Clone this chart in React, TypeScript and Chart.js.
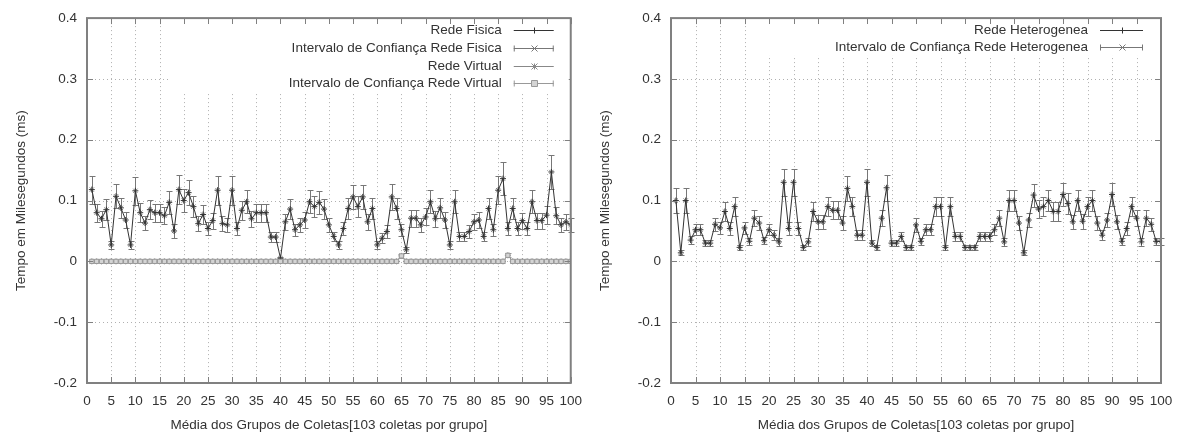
import React, { useEffect, useRef } from "react";
import { Chart, registerables } from "chart.js";

Chart.register(...registerables);

const FONTE = "'Liberation Sans', Arial, sans-serif";
const TAM_FONTE = 13.5;
const COR_TEXTO = "#333";

// Índices dos grupos de coletas (1..100)
const grupos = Array.from({ length: 100 }, (_, i) => i + 1);

const tituloX = "Média dos Grupos de Coletas[103 coletas por grupo]";
const tituloY = "Tempo em Milesegundos (ms)";

// Rede Física: média por grupo e meia-largura do intervalo de confiança (ms)
const redeFisica = [
  0.118, 0.08, 0.07, 0.085, 0.027, 0.107, 0.088, 0.068, 0.027, 0.116,
  0.08, 0.063, 0.085, 0.08, 0.08, 0.075, 0.097, 0.05, 0.118, 0.1,
  0.113, 0.09, 0.062, 0.077, 0.054, 0.067, 0.117, 0.062, 0.06, 0.117,
  0.054, 0.084, 0.098, 0.07, 0.08, 0.08, 0.08, 0.04, 0.04, 0.005,
  0.065, 0.086, 0.052, 0.06, 0.068, 0.098, 0.09, 0.097, 0.086, 0.06,
  0.041, 0.027, 0.054, 0.087, 0.106, 0.09, 0.106, 0.065, 0.087, 0.027,
  0.038, 0.049, 0.106, 0.087, 0.052, 0.019, 0.071, 0.071, 0.06, 0.073,
  0.098, 0.07, 0.088, 0.068, 0.027, 0.098, 0.041, 0.041, 0.049, 0.065,
  0.068, 0.041, 0.087, 0.052, 0.117, 0.136, 0.054, 0.087, 0.054, 0.067,
  0.054, 0.098, 0.067, 0.067, 0.076, 0.147, 0.075, 0.06, 0.065, 0.06,
];
const icRedeFisica = [
  0.023, 0.015, 0.013, 0.017, 0.006, 0.02, 0.017, 0.013, 0.006, 0.023,
  0.016, 0.012, 0.016, 0.015, 0.015, 0.014, 0.019, 0.011, 0.024, 0.019,
  0.021, 0.017, 0.012, 0.015, 0.011, 0.013, 0.024, 0.012, 0.012, 0.024,
  0.011, 0.016, 0.019, 0.013, 0.015, 0.015, 0.015, 0.008, 0.008, 0.003,
  0.013, 0.017, 0.01, 0.012, 0.013, 0.019, 0.017, 0.019, 0.017, 0.012,
  0.008, 0.006, 0.011, 0.017, 0.02, 0.017, 0.02, 0.013, 0.017, 0.006,
  0.008, 0.01, 0.021, 0.017, 0.01, 0.005, 0.014, 0.014, 0.012, 0.014,
  0.019, 0.013, 0.017, 0.013, 0.006, 0.019, 0.008, 0.008, 0.01, 0.013,
  0.013, 0.008, 0.017, 0.01, 0.023, 0.027, 0.011, 0.017, 0.011, 0.013,
  0.011, 0.019, 0.013, 0.013, 0.015, 0.028, 0.014, 0.012, 0.013, 0.012,
];

// Rede Virtual: média por grupo e meia-largura do intervalo de confiança (ms)
const redeVirtual = [
  0, 0, 0, 0, 0, 0, 0, 0, 0, 0,
  0, 0, 0, 0, 0, 0, 0, 0, 0, 0,
  0, 0, 0, 0, 0, 0, 0, 0, 0, 0,
  0, 0, 0, 0, 0, 0, 0, 0, 0, 0,
  0, 0, 0, 0, 0, 0, 0, 0, 0, 0,
  0, 0, 0, 0, 0, 0, 0, 0, 0, 0,
  0, 0, 0, 0, 0.009, 0, 0, 0, 0, 0,
  0, 0, 0, 0, 0, 0, 0, 0, 0, 0,
  0, 0, 0, 0, 0, 0, 0.01, 0, 0, 0,
  0, 0, 0, 0, 0, 0, 0, 0, 0, 0,
];
const icRedeVirtual = [
  0, 0, 0, 0, 0, 0, 0, 0, 0, 0,
  0, 0, 0, 0, 0, 0, 0, 0, 0, 0,
  0, 0, 0, 0, 0, 0, 0, 0, 0, 0,
  0, 0, 0, 0, 0, 0, 0, 0, 0, 0,
  0, 0, 0, 0, 0, 0, 0, 0, 0, 0,
  0, 0, 0, 0, 0, 0, 0, 0, 0, 0,
  0, 0, 0, 0, 0.003, 0, 0, 0, 0, 0,
  0, 0, 0, 0, 0, 0, 0, 0, 0, 0,
  0, 0, 0, 0, 0, 0, 0.003, 0, 0, 0,
  0, 0, 0, 0, 0, 0, 0, 0, 0, 0,
];

// Rede Heterogênea: média por grupo e meia-largura do intervalo de confiança (ms)
const redeHeterogenea = [
  0.1, 0.014, 0.1, 0.035, 0.052, 0.052, 0.03, 0.03, 0.061, 0.055,
  0.082, 0.054, 0.09, 0.023, 0.055, 0.033, 0.071, 0.063, 0.034, 0.052,
  0.043, 0.032, 0.13, 0.054, 0.13, 0.054, 0.023, 0.032, 0.082, 0.065,
  0.065, 0.09, 0.084, 0.084, 0.063, 0.12, 0.09, 0.043, 0.043, 0.13,
  0.03, 0.023, 0.071, 0.121, 0.03, 0.03, 0.041, 0.023, 0.023, 0.06,
  0.033, 0.052, 0.052, 0.09, 0.09, 0.023, 0.09, 0.041, 0.041, 0.023,
  0.023, 0.023, 0.041, 0.041, 0.041, 0.052, 0.071, 0.032, 0.1, 0.1,
  0.063, 0.014, 0.068, 0.109, 0.086, 0.09, 0.1, 0.082, 0.082, 0.11,
  0.095, 0.065, 0.1, 0.066, 0.09, 0.1, 0.063, 0.043, 0.068, 0.11,
  0.065, 0.033, 0.054, 0.09, 0.071, 0.032, 0.071, 0.061, 0.033, 0.033,
];
const icRedeHeterogenea = [
  0.02, 0.004, 0.02, 0.006, 0.009, 0.009, 0.005, 0.005, 0.011, 0.01,
  0.015, 0.01, 0.016, 0.004, 0.01, 0.006, 0.013, 0.011, 0.006, 0.009,
  0.008, 0.006, 0.022, 0.01, 0.022, 0.01, 0.004, 0.006, 0.015, 0.012,
  0.012, 0.016, 0.015, 0.015, 0.011, 0.021, 0.016, 0.008, 0.008, 0.022,
  0.005, 0.004, 0.013, 0.021, 0.005, 0.005, 0.007, 0.004, 0.004, 0.011,
  0.006, 0.009, 0.009, 0.016, 0.016, 0.004, 0.016, 0.007, 0.007, 0.004,
  0.004, 0.004, 0.007, 0.007, 0.007, 0.009, 0.013, 0.006, 0.018, 0.018,
  0.011, 0.004, 0.012, 0.019, 0.015, 0.016, 0.018, 0.015, 0.015, 0.019,
  0.017, 0.012, 0.018, 0.012, 0.016, 0.018, 0.011, 0.008, 0.012, 0.019,
  0.012, 0.006, 0.01, 0.016, 0.013, 0.006, 0.013, 0.011, 0.006, 0.006,
];

type Serie = {
  rotulo: string;
  valores: number[];
  erro?: number[];
  linha: boolean;
  cor: string;
  corPonto: string;
  fundo?: string;
  ponto: string;
  raio: number;
  ordem: number;
};

// Desenha um marcador no estilo do gnuplot (+, x, *, quadrado)
function marcador(ctx: CanvasRenderingContext2D, estilo: string, x: number, y: number, r: number, fundo?: string) {
  ctx.beginPath();
  if (estilo === "cross" || estilo === "star") {
    ctx.moveTo(x - r, y); ctx.lineTo(x + r, y);
    ctx.moveTo(x, y - r); ctx.lineTo(x, y + r);
  }
  if (estilo === "crossRot" || estilo === "star") {
    ctx.moveTo(x - r, y - r); ctx.lineTo(x + r, y + r);
    ctx.moveTo(x - r, y + r); ctx.lineTo(x + r, y - r);
  }
  if (estilo === "rect") {
    ctx.rect(x - r, y - r, 2 * r, 2 * r);
    if (fundo) { ctx.fillStyle = fundo; ctx.fill(); }
  }
  ctx.stroke();
}

// Grade pontilhada nas posições dos ticks
const gradePlugin = {
  id: "gradePontilhada",
  beforeDatasetsDraw(chart: any) {
    const { ctx, chartArea: a, scales } = chart;
    const x = scales.x, y = scales.y;
    ctx.save();
    ctx.strokeStyle = "#b0b0b0";
    ctx.lineWidth = 1;
    ctx.setLineDash([1, 3]);
    x.ticks.forEach((t: any) => {
      if (t.value <= x.min || t.value >= x.max) return;
      const px = Math.round(x.getPixelForValue(t.value)) + 0.5;
      ctx.beginPath(); ctx.moveTo(px, a.top); ctx.lineTo(px, a.bottom); ctx.stroke();
    });
    y.ticks.forEach((t: any) => {
      if (t.value <= y.min + 1e-9 || t.value >= y.max - 1e-9) return;
      const py = Math.round(y.getPixelForValue(t.value)) + 0.5;
      ctx.beginPath(); ctx.moveTo(a.left, py); ctx.lineTo(a.right, py); ctx.stroke();
    });
    ctx.restore();
  },
};

// Barras de erro (intervalo de confiança) desenhadas sob os marcadores
const erroPlugin = {
  id: "barrasErro",
  beforeDatasetDraw(chart: any, args: any) {
    const ds = chart.data.datasets[args.index];
    if (!ds.erro) return;
    const { ctx } = chart;
    const y = chart.scales.y;
    ctx.save();
    ctx.strokeStyle = ds.corBarra;
    ctx.lineWidth = 1;
    args.meta.data.forEach((pt: any, i: number) => {
      const v = ds.data[i].y;
      const e = ds.erro[i];
      if (!e) return;
      const top = Math.round(y.getPixelForValue(v + e)) + 0.5;
      const bot = Math.round(y.getPixelForValue(v - e)) + 0.5;
      const px = Math.round(pt.x) + 0.5;
      ctx.beginPath();
      ctx.moveTo(px, top); ctx.lineTo(px, bot);
      ctx.moveTo(px - 3, top); ctx.lineTo(px + 3, top);
      ctx.moveTo(px - 3, bot); ctx.lineTo(px + 3, bot);
      ctx.stroke();
    });
    ctx.restore();
  },
};

// Moldura com marcas de tick voltadas para dentro nos quatro lados
const bordaPlugin = {
  id: "moldura",
  afterDatasetsDraw(chart: any) {
    const { ctx, chartArea: a, scales } = chart;
    const x = scales.x, y = scales.y;
    ctx.save();
    ctx.strokeStyle = "#808080";
    ctx.lineWidth = 1;
    x.ticks.forEach((t: any) => {
      const px = Math.round(x.getPixelForValue(t.value)) + 0.5;
      ctx.beginPath();
      ctx.moveTo(px, a.bottom); ctx.lineTo(px, a.bottom - 6);
      ctx.moveTo(px, a.top); ctx.lineTo(px, a.top + 6);
      ctx.stroke();
    });
    y.ticks.forEach((t: any) => {
      const py = Math.round(y.getPixelForValue(t.value)) + 0.5;
      ctx.beginPath();
      ctx.moveTo(a.left, py); ctx.lineTo(a.left + 6, py);
      ctx.moveTo(a.right, py); ctx.lineTo(a.right - 6, py);
      ctx.stroke();
    });
    ctx.lineWidth = 2;
    ctx.strokeRect(a.left, a.top, a.right - a.left, a.bottom - a.top);
    ctx.restore();
  },
};

// Legenda opaca no canto superior direito, à maneira do gnuplot
const legendaPlugin = {
  id: "legendaGnuplot",
  afterDatasetsDraw(chart: any, _args: any, opts: any) {
    const { ctx, chartArea: a } = chart;
    const series: Serie[] = opts.series;
    ctx.save();
    const yUlt = a.top + opts.topo + (series.length - 1) * opts.passo;
    ctx.fillStyle = "#fff";
    ctx.fillRect(a.right - opts.caixaEsq, a.top + 6, opts.caixaEsq - 2, yUlt + 9 - (a.top + 6));
    ctx.font = `${TAM_FONTE}px ${FONTE}`;
    ctx.textAlign = "right";
    ctx.textBaseline = "middle";
    const x0 = a.right - opts.amostraIni;
    const x1 = a.right - opts.amostraFim;
    series.forEach((s, k) => {
      const yy = Math.round(a.top + opts.topo + k * opts.passo) + 0.5;
      ctx.fillStyle = COR_TEXTO;
      ctx.fillText(s.rotulo, a.right - opts.textoDir, yy);
      ctx.strokeStyle = s.erro ? s.corPonto : s.cor;
      ctx.lineWidth = 1;
      ctx.beginPath();
      ctx.moveTo(x0, yy); ctx.lineTo(x1, yy);
      if (s.erro) {
        ctx.moveTo(x0 + 0.5, yy - 3); ctx.lineTo(x0 + 0.5, yy + 3);
        ctx.moveTo(x1 - 0.5, yy - 3); ctx.lineTo(x1 - 0.5, yy + 3);
      }
      ctx.stroke();
      ctx.strokeStyle = s.corPonto;
      marcador(ctx, s.ponto, Math.round((x0 + x1) / 2) + 0.5, yy, s.raio, s.fundo);
    });
    ctx.restore();
  },
};

type PainelProps = {
  esquerda: number;
  largura: number;
  altura: number;
  larguraEixoY: number;
  margemDir: number;
  recuoTituloY: number;
  series: Serie[];
  legenda: { topo: number; passo: number; textoDir: number; amostraIni: number; amostraFim: number; caixaEsq: number };
};

function Painel(p: PainelProps) {
  const ref = useRef<HTMLCanvasElement>(null);
  useEffect(() => {
    if (!ref.current) return;
    const fonte = { family: FONTE, size: TAM_FONTE };
    const chart = new Chart(ref.current, {
      type: "line",
      data: {
        datasets: p.series.map((s) => ({
          label: s.rotulo,
          data: s.valores.map((v, i) => ({ x: grupos[i], y: v })),
          erro: s.erro,
          corBarra: s.corPonto,
          showLine: s.linha,
          borderColor: s.cor,
          borderWidth: 1,
          tension: 0,
          pointStyle: s.ponto,
          pointRadius: s.raio,
          pointBorderColor: s.corPonto,
          pointBackgroundColor: s.fundo ?? s.corPonto,
          pointBorderWidth: 1,
          fill: false,
          order: s.ordem,
        })) as any,
      },
      options: {
        responsive: false,
        animation: false,
        devicePixelRatio: 1,
        events: [],
        layout: { padding: { left: 0, right: p.margemDir, top: 15, bottom: 0 } },
        plugins: {
          legend: { display: false },
          tooltip: { enabled: false },
          legendaGnuplot: { ...p.legenda, series: p.series },
        } as any,
        scales: {
          x: {
            type: "linear",
            min: 0,
            max: 100,
            grid: { display: false, drawTicks: false },
            border: { display: false },
            ticks: { stepSize: 5, autoSkip: false, maxRotation: 0, padding: 10, color: COR_TEXTO, font: fonte },
            title: { display: true, text: tituloX, color: COR_TEXTO, font: fonte, padding: { top: 0, bottom: 1 } },
            afterFit: (s: any) => { s.height = 51; },
          },
          y: {
            type: "linear",
            min: -0.2,
            max: 0.4,
            grid: { display: false, drawTicks: false },
            border: { display: false },
            ticks: {
              stepSize: 0.1,
              padding: 10,
              color: COR_TEXTO,
              font: fonte,
              callback: (v: any) => {
                const n = Math.round(Number(v) * 10) / 10;
                return n === 0 ? "0" : String(n);
              },
            },
            title: { display: true, text: tituloY, color: COR_TEXTO, font: fonte, padding: { top: p.recuoTituloY, bottom: 0 } },
            afterFit: (s: any) => { s.width = p.larguraEixoY; },
          },
        } as any,
      },
      plugins: [gradePlugin, erroPlugin, bordaPlugin, legendaPlugin],
    });
    return () => chart.destroy();
  }, []);
  return (
    <canvas
      ref={ref}
      width={p.largura}
      height={p.altura}
      style={{ position: "absolute", left: p.esquerda, top: 0, width: p.largura, height: p.altura }}
    />
  );
}

const seriesFisicaVirtual: Serie[] = [
  { rotulo: "Rede Fisica", valores: redeFisica, linha: true, cor: "#333", corPonto: "#333", ponto: "cross", raio: 3, ordem: 1 },
  { rotulo: "Intervalo de Confiança Rede Fisica", valores: redeFisica, erro: icRedeFisica, linha: false, cor: "#777", corPonto: "#777", ponto: "crossRot", raio: 3, ordem: 2 },
  { rotulo: "Rede Virtual", valores: redeVirtual, linha: true, cor: "#888", corPonto: "#888", ponto: "star", raio: 3, ordem: 3 },
  { rotulo: "Intervalo de Confiança Rede Virtual", valores: redeVirtual, erro: icRedeVirtual, linha: false, cor: "#999", corPonto: "#999", fundo: "#d4d4d4", ponto: "rect", raio: 3, ordem: 0 },
];

const seriesHeterogenea: Serie[] = [
  { rotulo: "Rede Heterogenea", valores: redeHeterogenea, linha: true, cor: "#333", corPonto: "#333", ponto: "cross", raio: 3, ordem: 1 },
  { rotulo: "Intervalo de Confiança Rede Heterogenea", valores: redeHeterogenea, erro: icRedeHeterogenea, linha: false, cor: "#777", corPonto: "#777", ponto: "crossRot", raio: 3, ordem: 2 },
];

export default function App() {
  return (
    <div style={{ position: "absolute", left: 0, top: 0, width: 1184, height: 434, background: "#fff" }}>
      <Painel
        esquerda={0}
        largura={592}
        altura={434}
        larguraEixoY={87}
        margemDir={20}
        recuoTituloY={13}
        series={seriesFisicaVirtual}
        legenda={{ topo: 12, passo: 17.7, textoDir: 69, amostraIni: 57, amostraFim: 17, caixaEsq: 400 }}
      />
      <Painel
        esquerda={592}
        largura={592}
        altura={434}
        larguraEixoY={79}
        margemDir={23}
        recuoTituloY={5}
        series={seriesHeterogenea}
        legenda={{ topo: 12, passo: 16.5, textoDir: 73, amostraIni: 61, amostraFim: 18, caixaEsq: 400 }}
      />
    </div>
  );
}
